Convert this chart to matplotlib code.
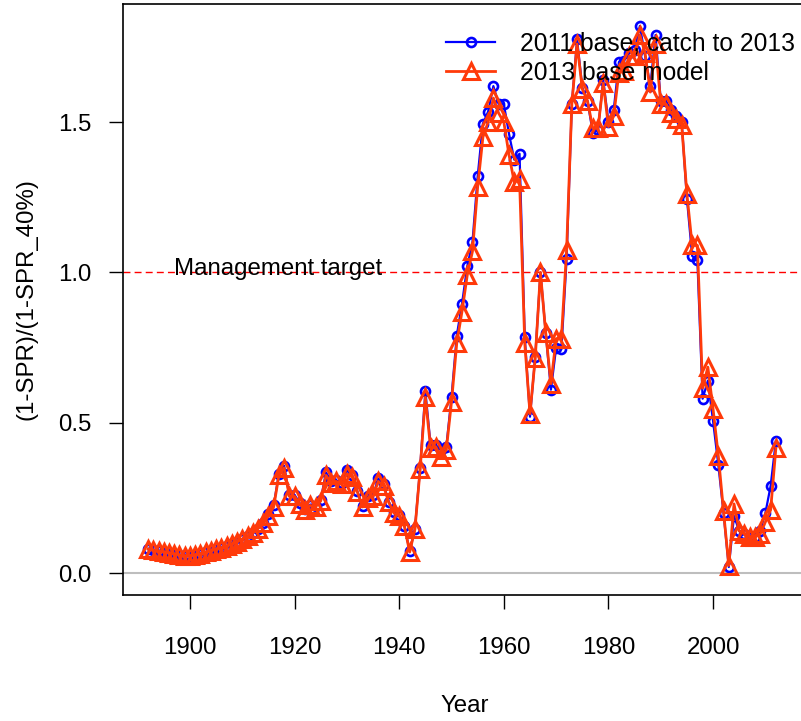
import numpy as np
import matplotlib
matplotlib.use("Agg")
import matplotlib.pyplot as plt

plt.rcParams['font.family'] = ['Liberation Sans', 'DejaVu Sans']

years = np.arange(1892, 2013)

# 2013 base model
spr_2013 = [
    0.080, 0.076, 0.073, 0.070, 0.067, 0.064, 0.060, 0.058, 0.058, 0.061,  # 1892-1901
    0.065, 0.070, 0.075, 0.080, 0.085, 0.090, 0.097, 0.104, 0.113, 0.123,  # 1902-1911
    0.134, 0.148, 0.165, 0.190, 0.220, 0.325, 0.350, 0.255, 0.255, 0.230,  # 1912-1921
    0.210, 0.225, 0.220, 0.240, 0.325, 0.300, 0.305, 0.295, 0.330, 0.320,  # 1922-1931
    0.270, 0.220, 0.250, 0.255, 0.305, 0.290, 0.235, 0.200, 0.190, 0.155,  # 1932-1941
    0.070, 0.145, 0.345, 0.585, 0.415, 0.420, 0.385, 0.410, 0.570, 0.765,  # 1942-1951
    0.870, 0.990, 1.070, 1.285, 1.450, 1.500, 1.580, 1.530, 1.500, 1.390,  # 1952-1961
    1.300, 1.310, 0.765, 0.530, 0.715, 1.000, 0.800, 0.630, 0.780, 0.780,  # 1962-1971
    1.075, 1.560, 1.760, 1.610, 1.570, 1.480, 1.480, 1.630, 1.485, 1.520,  # 1972-1981
    1.665, 1.670, 1.720, 1.720, 1.790, 1.730, 1.600, 1.760, 1.560, 1.560,  # 1982-1991
    1.530, 1.510, 1.490, 1.260, 1.090, 1.090, 0.615, 0.685, 0.545, 0.390,  # 1992-2001
    0.205, 0.025, 0.230, 0.140, 0.130, 0.120, 0.120, 0.130, 0.170, 0.210,  # 2002-2011
    0.415,                                                                 # 2012
]

# 2011 base, catch to 2013
spr_2011 = [
    0.080, 0.076, 0.073, 0.070, 0.067, 0.064, 0.060, 0.058, 0.058, 0.061,
    0.065, 0.070, 0.075, 0.080, 0.085, 0.090, 0.097, 0.104, 0.113, 0.123,
    0.134, 0.148, 0.165, 0.195, 0.225, 0.330, 0.357, 0.258, 0.260, 0.232,
    0.212, 0.228, 0.222, 0.243, 0.335, 0.305, 0.308, 0.300, 0.342, 0.325,
    0.272, 0.222, 0.255, 0.258, 0.315, 0.295, 0.238, 0.203, 0.193, 0.158,
    0.072, 0.148, 0.350, 0.605, 0.425, 0.425, 0.410, 0.420, 0.585, 0.790,
    0.895, 1.020, 1.100, 1.320, 1.495, 1.535, 1.620, 1.560, 1.560, 1.460,
    1.375, 1.395, 0.785, 0.520, 0.720, 1.000, 0.800, 0.610, 0.750, 0.745,
    1.045, 1.560, 1.775, 1.615, 1.570, 1.465, 1.475, 1.640, 1.500, 1.540,
    1.700, 1.705, 1.730, 1.740, 1.820, 1.720, 1.620, 1.790, 1.570, 1.570,
    1.540, 1.520, 1.500, 1.245, 1.055, 1.040, 0.580, 0.640, 0.505, 0.360,
    0.200, 0.020, 0.190, 0.140, 0.130, 0.120, 0.120, 0.140, 0.200, 0.290,
    0.440,
]

target = 1.0
xticks = [1900, 1920, 1940, 1960, 1980, 2000]
yticks = [0.0, 0.5, 1.0, 1.5]

fs = 17.3
fig = plt.figure(figsize=(8.01, 7.21), dpi=100)
ax = fig.add_axes([123 / 801, 1 - 595 / 721, 684 / 801, 591 / 721])

ax.axhline(0, color='#BEBEBE', lw=1.5, zorder=1)
ax.axhline(target, color='red', lw=1.0, ls=(0, (5, 3)), zorder=1)
ax.text(1897, target - 0.01, 'Management target', fontsize=fs,
        ha='left', va='baseline', zorder=2)

ax.plot(years, spr_2011, color='blue', lw=1.6, marker='o', ms=6.5,
        mfc='none', mew=1.9, label='2011 base, catch to 2013', zorder=3)
ax.plot(years, spr_2013, color='#FF3A0A', lw=2.0, marker='^', ms=11,
        mfc='none', mew=2.2, label='2013 base model', zorder=4)

ax.set_xlim(1887.2, 2016.8 + 6 / 5.21)
ax.set_ylim(-0.073, 1.893)
ax.set_xticks(xticks)
ax.set_yticks(yticks)
ax.set_yticklabels(['%.1f' % v for v in yticks])
ax.tick_params(direction='out', length=10, width=1.0, labelsize=fs, colors='black')
ax.tick_params(axis='x', pad=20)
ax.tick_params(axis='y', pad=13)
for s in ax.spines.values():
    s.set_linewidth(1.2)

ax.set_xlabel('Year', fontsize=fs)
ax.xaxis.set_label_coords(0.5, (595 - 695) / 591)
ax.set_ylabel('(1-SPR)/(1-SPR_40%)', fontsize=fs)
ax.yaxis.label.set_verticalalignment('center')
ax.yaxis.set_label_coords((27 - 123) / 684, 0.5)

ax.legend(loc='upper right', bbox_to_anchor=((795 - 123) / 684, 0.953), frameon=False,
          fontsize=17.7, borderaxespad=0, borderpad=0, handlelength=2.0,
          handletextpad=1.0, labelspacing=0.2)

fig.savefig('out.png', dpi=100)
